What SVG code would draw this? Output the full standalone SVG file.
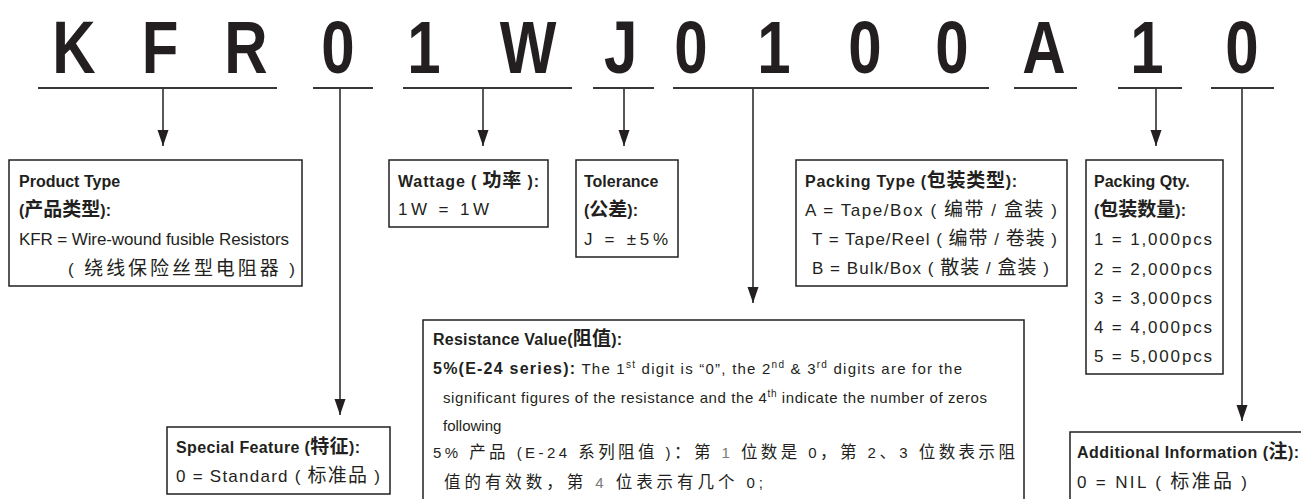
<svg xmlns="http://www.w3.org/2000/svg" width="1301" height="499" viewBox="0 0 1301 499">
<style>
.t{font-family:"Liberation Sans","Noto Sans CJK SC",sans-serif;font-size:17px;fill:#231f20}
.b{font-weight:bold;font-size:16px}
.r{font-size:15px}
.c{font-family:"Noto Sans CJK SC",sans-serif;font-size:19px}
.cr{font-family:"Noto Sans CJK SC",sans-serif;font-size:16.5px}
.s{font-size:10px}
.g{fill:#7a7a7a}
.code{font-family:"Liberation Sans",sans-serif;font-size:75px;font-weight:bold;fill:#231f20}
.box{fill:#fff;stroke:#231f20;stroke-width:1.5}
.ul{stroke:#3a3637;stroke-width:2.2}
.con{stroke:#231f20;stroke-width:1.5;fill:none}
</style>
<defs>
<marker id="ah" markerUnits="userSpaceOnUse" markerWidth="17" markerHeight="12" refX="16" refY="5.5" orient="auto">
<path d="M0,0 L16,5.5 L0,11 z" fill="#231f20"/>
</marker>
</defs>
<rect width="1301" height="499" fill="#fff"/>

<g id="code">
<g transform="scale(0.8,1)">
<text class="code" y="73" text-anchor="middle">
<tspan x="92.5">K</tspan><tspan x="200">F</tspan><tspan x="307.5">R</tspan><tspan x="422.5">0</tspan><tspan x="530">1</tspan><tspan x="660">W</tspan><tspan x="776">J</tspan><tspan x="863.8">0</tspan><tspan x="967.5">1</tspan><tspan x="1081.3">0</tspan><tspan x="1190">0</tspan><tspan x="1305">A</tspan><tspan x="1433.8">1</tspan><tspan x="1552.5">0</tspan>
</text>
</g>
<g class="ul">
<line x1="38" y1="88" x2="277" y2="88"/>
<line x1="313" y1="88" x2="373" y2="88"/>
<line x1="403" y1="88" x2="572" y2="88"/>
<line x1="593" y1="88" x2="654" y2="88"/>
<line x1="673" y1="88" x2="989" y2="88"/>
<line x1="1014" y1="88" x2="1077" y2="88"/>
<line x1="1118" y1="88" x2="1182" y2="88"/>
<line x1="1211" y1="88" x2="1274" y2="88"/>
</g>
</g>

<g id="connectors" class="con" marker-end="url(#ah)">
<line x1="163" y1="89" x2="163" y2="146"/>
<line x1="340" y1="89" x2="340" y2="415"/>
<line x1="483" y1="89" x2="483" y2="146"/>
<line x1="624" y1="89" x2="624" y2="146"/>
<line x1="753" y1="89" x2="753" y2="303"/>
<line x1="1156" y1="89" x2="1156" y2="146"/>
<line x1="1242" y1="89" x2="1242" y2="421"/>
</g>

<g id="product-type">
<rect class="box" x="9" y="160" width="293" height="126"/>
<text class="t b" x="19" y="187">Product Type</text>
<text class="t b" x="19" y="216">(<tspan class="c">产品类型</tspan>):</text>
<text class="t" x="19" y="245" textLength="270" lengthAdjust="spacing">KFR = Wire-wound fusible Resistors</text>
<text class="t" x="68" y="275" textLength="227" lengthAdjust="spacing">( <tspan class="c">绕线保险丝型电阻器</tspan> )</text>
</g>

<g id="wattage">
<rect class="box" x="389" y="160" width="159" height="67"/>
<text class="t b" x="398" y="187" textLength="141" lengthAdjust="spacing">Wattage ( <tspan class="c">功率</tspan> ):</text>
<text class="t" x="398" y="215" textLength="91" lengthAdjust="spacing">1W = 1W</text>
</g>

<g id="tolerance">
<rect class="box" x="576" y="160" width="102" height="97"/>
<text class="t b" x="584" y="187">Tolerance</text>
<text class="t b" x="584" y="216">(<tspan class="c">公差</tspan>):</text>
<text class="t" x="584" y="245" textLength="84" lengthAdjust="spacing">J = ±5%</text>
</g>

<g id="packing-type">
<rect class="box" x="796" y="160" width="271" height="126"/>
<text class="t b" x="805" y="187" textLength="212" lengthAdjust="spacing">Packing Type (<tspan class="c">包装类型</tspan>):</text>
<text class="t" x="805" y="216" textLength="252" lengthAdjust="spacing">A = Tape/Box ( <tspan class="c">编带</tspan> / <tspan class="c">盒装</tspan> )</text>
<text class="t" x="812" y="245" textLength="245" lengthAdjust="spacing">T = Tape/Reel ( <tspan class="c">编带</tspan> / <tspan class="c">卷装</tspan> )</text>
<text class="t" x="812" y="274" textLength="237" lengthAdjust="spacing">B = Bulk/Box ( <tspan class="c">散装</tspan> / <tspan class="c">盒装</tspan> )</text>
</g>

<g id="packing-qty">
<rect class="box" x="1086" y="160" width="137" height="214"/>
<text class="t b" x="1094" y="187">Packing Qty.</text>
<text class="t b" x="1094" y="216">(<tspan class="c">包装数量</tspan>):</text>
<text class="t" x="1094" y="245" textLength="118" lengthAdjust="spacing">1 = 1,000pcs</text>
<text class="t" x="1094" y="275" textLength="118" lengthAdjust="spacing">2 = 2,000pcs</text>
<text class="t" x="1094" y="304" textLength="118" lengthAdjust="spacing">3 = 3,000pcs</text>
<text class="t" x="1094" y="333" textLength="118" lengthAdjust="spacing">4 = 4,000pcs</text>
<text class="t" x="1094" y="362" textLength="118" lengthAdjust="spacing">5 = 5,000pcs</text>
</g>

<g id="special-feature">
<rect class="box" x="167" y="427" width="223" height="67"/>
<text class="t b" x="176" y="453" textLength="184" lengthAdjust="spacing">Special Feature (<tspan class="c">特征</tspan>):</text>
<text class="t" x="176" y="482" textLength="204" lengthAdjust="spacing">0 = Standard ( <tspan class="c">标准品</tspan> )</text>
</g>

<g id="resistance-value">
<rect class="box" x="423" y="320" width="601" height="200"/>
<text class="t b" x="433" y="345" textLength="189" lengthAdjust="spacing">Resistance Value(<tspan class="c">阻值</tspan>):</text>
<text class="t r" x="433" y="374" textLength="529" lengthAdjust="spacing"><tspan class="b">5%(E-24 series):</tspan> The 1<tspan class="s" dy="-6">st</tspan><tspan dy="6"> digit is “0”, the 2</tspan><tspan class="s" dy="-6">nd</tspan><tspan dy="6">  &amp; 3</tspan><tspan class="s" dy="-6">rd</tspan><tspan dy="6"> digits are for the</tspan></text>
<text class="t r" x="443" y="403" textLength="544" lengthAdjust="spacing">significant figures of the resistance and the 4<tspan class="s" dy="-6">th</tspan><tspan dy="6"> indicate the number of zeros</tspan></text>
<text class="t r" x="443" y="431">following</text>
<text class="t r" x="433" y="458" textLength="582" lengthAdjust="spacing">5% <tspan class="cr">产品</tspan> (E-24 <tspan class="cr">系列阻值</tspan> )<tspan class="cr">：第</tspan> <tspan class="g">1</tspan> <tspan class="cr">位数是</tspan> 0<tspan class="cr">，第</tspan> 2<tspan class="cr">、</tspan>3 <tspan class="cr">位数表示阻</tspan></text>
<text class="t r" x="444" y="488" textLength="319" lengthAdjust="spacing"><tspan class="cr">值的有效数，第</tspan> <tspan class="g">4</tspan> <tspan class="cr">位表示有几个</tspan> 0;</text>
</g>

<g id="additional-information">
<rect class="box" x="1070" y="432" width="240" height="90"/>
<text class="t b" x="1077" y="458" textLength="222" lengthAdjust="spacing">Additional Information (<tspan class="c">注</tspan>):</text>
<text class="t" x="1077" y="488" textLength="170" lengthAdjust="spacing">0 = NIL ( <tspan class="c">标准品</tspan> )</text>
</g>
</svg>
